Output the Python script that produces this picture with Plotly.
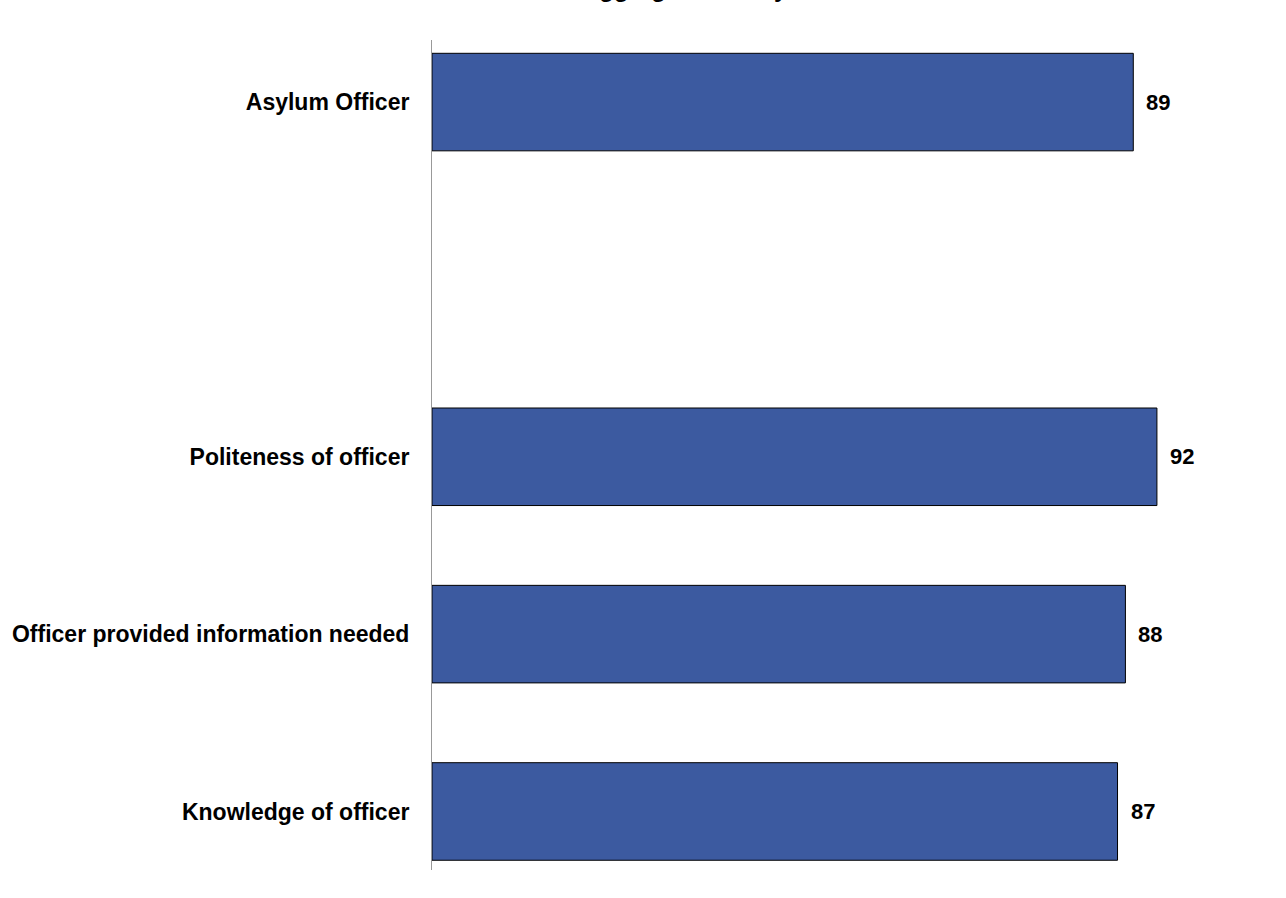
import plotly.graph_objects as go

categories = ["Asylum Officer", " ", "Politeness of officer",
              "Officer provided information needed", "Knowledge of officer"]
values = [89, None, 92, 88, 87]
title_text = "Aggregate Survey"

bar_color = "#3C5AA0"
FONT = "Liberation Sans, Arial"

fig = go.Figure()
fig.add_trace(go.Bar(
    y=categories, x=values, orientation="h",
    marker=dict(color=bar_color, line=dict(color="black", width=1)),
    width=0.55, showlegend=False, hoverinfo="x+y",
))
for c, v in zip(categories, values):
    if v is None:
        continue
    fig.add_annotation(x=v, y=c, text="<b>%d</b>" % v, showarrow=False,
                       xanchor="left", xshift=11,
                       font=dict(family=FONT, size=22, color="black"))

fig.add_annotation(xref="paper", yref="paper", x=0.174, y=1, yshift=67,
                   xanchor="left",
                   text="<b>" + title_text + "</b>", showarrow=False,
                   font=dict(family=FONT, size=24, color="black"))

fig.update_layout(
    width=1286, height=898,
    margin=dict(l=432, r=3, t=40, b=28),
    paper_bgcolor="white", plot_bgcolor="white",
    font=dict(family=FONT, size=23, color="black"),
    bargap=0.45,
)
fig.update_xaxes(range=[0, 108], showgrid=False, showticklabels=False,
                 zeroline=False, showline=False, ticks="")
fig.update_yaxes(type="category", categoryorder="array", categoryarray=categories,
                 range=[4.33, -0.35], showgrid=False, zeroline=False,
                 showline=True, linecolor="#999999", linewidth=1, ticks="",
                 tickfont=dict(family=FONT, size=23, color="black", weight="bold"),
                 ticklabelstandoff=17)

fig.write_html("out.html")
